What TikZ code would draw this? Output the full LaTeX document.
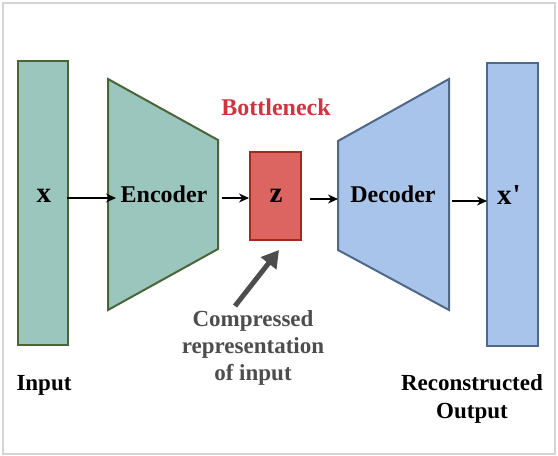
\documentclass[tikz,border=0pt]{standalone}
\usepackage{fontspec}
\setmainfont{Liberation Serif}
\usetikzlibrary{arrows.meta}
\definecolor{gfill}{HTML}{9BC6BD}
\definecolor{gline}{HTML}{4A6638}
\definecolor{bfill}{HTML}{A9C4EA}
\definecolor{bline}{HTML}{4F6889}
\definecolor{rfill}{HTML}{DC6461}
\definecolor{rline}{HTML}{A4281F}
\definecolor{btl}{HTML}{D0343F}
\definecolor{darkg}{HTML}{4D4D4D}
\definecolor{frame}{HTML}{D4D4D4}
\tikzset{
  lbl/.style={font=\fontsize{23}{27}\selectfont\bfseries, inner sep=0pt, anchor=base},
  big/.style={lbl, font=\fontsize{24}{28}\selectfont\bfseries},
  var/.style={lbl, font=\fontsize{29}{30}\selectfont\bfseries},
  flow/.style={-{Stealth[length=10pt,width=9pt]}, line width=1.2pt, black},
  gshape/.style={fill=gfill, draw=gline, line width=2pt},
  bshape/.style={fill=bfill, draw=bline, line width=2pt},
}
\begin{document}
\begin{tikzpicture}[x=1pt,y=-1pt]
\useasboundingbox (0,0) rectangle (558,456);
\draw[frame, line width=1.5pt] (3,3) rectangle (555,454);
% shapes
\draw[gshape] (18,61) rectangle (68,345);
\draw[gshape] (108,79) -- (218,140) -- (218,249) -- (108,310) -- cycle;
\draw[fill=rfill, draw=rline, line width=2.5pt] (250,152) rectangle (301,240);
\draw[bshape] (338,141) -- (449,79) -- (449,310) -- (338,250) -- cycle;
\draw[bshape] (487,63) rectangle (538,346);
% labels
\node[var] (x) at (44,202) {x};
\node[big] (enc) at (164,202) {Encoder};
\node[var] (z) at (276,202) {z};
\node[big] (dec) at (393,202) {Decoder};
\node[var] (xp) at (509,204) {x\kern1pt\textquotesingle};
\node[big, text=btl] (bn) at (276,115) {Bottleneck};
\node[lbl, text=darkg] (cmp1) at (253,326) {Compressed};
\node[lbl, text=darkg] (cmp2) at (253,353) {representation};
\node[lbl, text=darkg] (cmp3) at (253,380) {of input};
\node[lbl] (in) at (44,390) {Input};
\node[lbl] (out1) at (472,390) {Reconstructed};
\node[lbl] (out2) at (472,418) {Output};
% connectors
\coordinate (a1) at (67,198); \coordinate (a2) at (116,198);
\coordinate (b1) at (222,198); \coordinate (b2) at (249,198);
\coordinate (c1) at (310,199); \coordinate (c2) at (338,199);
\coordinate (d1) at (452,201); \coordinate (d2) at (487,201);
\draw[flow] (a1) -- (a2);
\draw[flow] (b1) -- (b2);
\draw[flow] (c1) -- (c2);
\draw[flow] (d1) -- (d2);
\coordinate (gt) at (235,306); \coordinate (gh) at (279,250);
\draw[-{Triangle[length=17pt,width=19pt]}, line width=5pt, darkg] (gt) -- (gh);
\end{tikzpicture}
\end{document}
